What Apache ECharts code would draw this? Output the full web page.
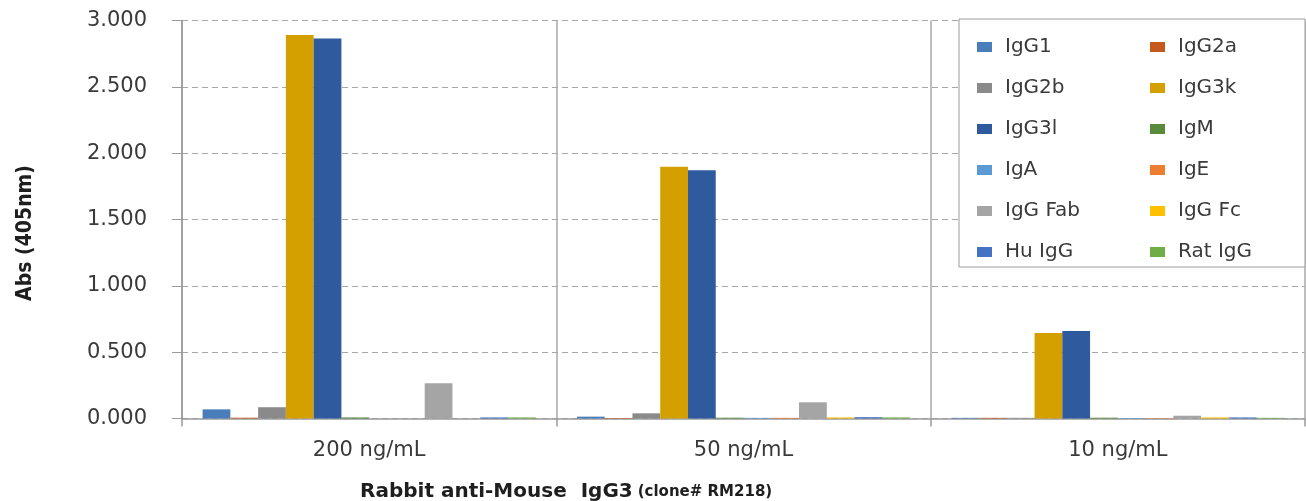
<!DOCTYPE html>
<html>
<head>
<meta charset="utf-8">
<script src="https://cdn.jsdelivr.net/npm/echarts@6/dist/echarts.min.js"></script>
<style>
html,body{margin:0;padding:0;background:#fff;}
#chart{width:1306px;height:501px;}
</style>
</head>
<body>
<div id="chart"></div>
<script>
const categories = ['200 ng/mL', '50 ng/mL', '10 ng/mL'];
const seriesNames = ['IgG1','IgG2a','IgG2b','IgG3k','IgG3l','IgM','IgA','IgE','IgG Fab','IgG Fc','Hu IgG','Rat IgG'];
const IgG1   = [0.069, 0.014, 0.005];
const IgG2a  = [0.006, 0.004, 0.005];
const IgG2b  = [0.085, 0.039, 0.005];
const IgG3k  = [2.891, 1.897, 0.644];
const IgG3l  = [2.864, 1.872, 0.659];
const IgM    = [0.008, 0.006, 0.006];
const IgA    = [0.000, 0.005, 0.004];
const IgE    = [0.000, 0.005, 0.003];
const IgGFab = [0.266, 0.122, 0.021];
const IgGFc  = [0.000, 0.008, 0.008];
const HuIgG  = [0.008, 0.010, 0.008];
const RatIgG = [0.008, 0.008, 0.005];
const seriesValues = [IgG1, IgG2a, IgG2b, IgG3k, IgG3l, IgM, IgA, IgE, IgGFab, IgGFc, HuIgG, RatIgG];
const colors = ['#4A7EBB','#C65A1E','#8A8A8A','#D4A000','#2F5A9E','#5A8A3C','#5B9BD5','#ED7D31','#A5A5A5','#FFC000','#4472C4','#70AD47'];
const yTicks = [0, 0.5, 1, 1.5, 2, 2.5, 3];
const yAxisTitle = 'Abs (405nm)';
const xTitleMain = 'Rabbit anti-Mouse  IgG3';
const xTitleSub = '(clone# RM218)';

const chart = echarts.init(document.getElementById('chart'));
const textColor = '#3A3A3A';
const font = 'DejaVu Sans';
const legendCommon = {
  orient: 'vertical',
  icon: 'rect',
  itemWidth: 15,
  itemHeight: 10,
  itemGap: 19,
  top: 31,
  textStyle: {fontFamily: font, fontSize: 20, color: textColor, lineHeight: 22, padding: [0,0,0,8]},
  z: 10
};
chart.setOption({
  animation: false,
  color: colors,
  grid: {left: 182, right: 1, top: 20.5, bottom: 82.5, containLabel: false},
  title: {
    left: 355, top: 475,
    text: '{a|' + xTitleMain + '} {b|' + xTitleSub + '}',
    textStyle: {
      rich: {
        a: {fontFamily: font, fontWeight: 'bold', fontSize: 20, color: '#1E1E1E', lineHeight: 24},
        b: {fontFamily: font, fontWeight: 'bold', fontSize: 15, color: '#1E1E1E', lineHeight: 24}
      }
    }
  },
  graphic: [
    {type: 'rect', z: 5, shape: {x: 959, y: 19, width: 346, height: 248},
     style: {fill: '#fff', stroke: '#9A9A9A', lineWidth: 1}},
    {type: 'text', z: 5, x: 26, y: 233, rotation: Math.PI/2,
     style: {text: yAxisTitle, fontFamily: '"DejaVu Sans Condensed", sans-serif', fontWeight: 'bold', fontSize: 21, fill: '#1E1E1E', align: 'center', verticalAlign: 'middle'}}
  ],
  legend: [
    Object.assign({}, legendCommon, {left: 972, data: [seriesNames[0], seriesNames[2], seriesNames[4], seriesNames[6], seriesNames[8], seriesNames[10]]}),
    Object.assign({}, legendCommon, {left: 1145, data: [seriesNames[1], seriesNames[3], seriesNames[5], seriesNames[7], seriesNames[9], seriesNames[11]]})
  ],
  xAxis: {
    type: 'category',
    data: categories,
    axisLine: {lineStyle: {color: '#9A9A9A', width: 1.5}},
    axisTick: {show: true, length: 8, lineStyle: {color: '#9A9A9A', width: 1.5}},
    splitLine: {show: true, lineStyle: {color: '#A8A8A8', width: 1.5}},
    axisLabel: {fontFamily: font, fontSize: 21, color: textColor, margin: 22}
  },
  yAxis: {
    type: 'value',
    min: yTicks[0], max: yTicks[yTicks.length-1], interval: 0.5,
    axisLine: {show: true, lineStyle: {color: '#9A9A9A', width: 1.5}},
    axisTick: {show: true, length: 10, lineStyle: {color: '#9A9A9A'}},
    splitLine: {show: true, lineStyle: {color: '#A8A8A8', type: [6, 4], width: 1}},
    axisLabel: {fontFamily: font, fontSize: 21, color: textColor, margin: 35, formatter: v => v.toFixed(3)}
  },
  series: seriesNames.map((n, i) => ({
    name: n,
    type: 'bar',
    data: seriesValues[i],
    barGap: '0%',
    barCategoryGap: '11%',
    itemStyle: {color: colors[i]}
  }))
});
</script>
</body>
</html>
